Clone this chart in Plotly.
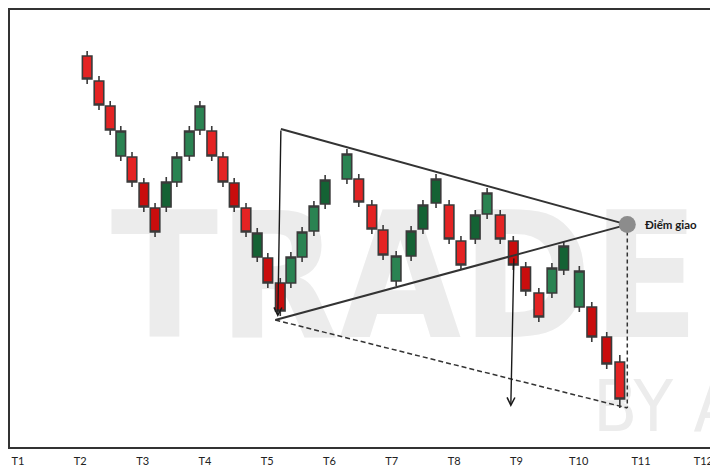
import plotly.graph_objects as go

# ---------------- data ----------------
tick_pos = [1, 2, 3, 4, 5, 6, 7, 8, 9, 10, 11, 12]
tick_labels = ["T1", "T2", "T3", "T4", "T5", "T6", "T7", "T8", "T9", "T10", "T11", "T12"]

candle_x = [2.11, 2.30, 2.48, 2.65, 2.83, 3.02, 3.20, 3.38, 3.55, 3.75, 3.92,
            4.11, 4.29, 4.47, 4.66, 4.84, 5.01, 5.21, 5.38, 5.56, 5.75, 5.93,
            6.28, 6.47, 6.68, 6.86, 7.07, 7.31, 7.50, 7.71, 7.92, 8.11, 8.34,
            8.53, 8.74, 8.95, 9.15, 9.36, 9.57, 9.76, 10.01, 10.21, 10.45, 10.66]
candle_open = [97.75, 91.5, 85.25, 72.75, 72.5, 66.0, 59.75, 60.0, 66.25, 72.75, 79.25,
               79.0, 72.5, 66.0, 59.75, 47.5, 47.25, 41.0, 41.0, 47.5, 54.0, 60.75,
               67.0, 67.0, 60.5, 54.25, 41.5, 47.75, 54.5, 61.0, 60.5, 51.5, 52.0,
               58.25, 58.0, 51.5, 45.0, 38.5, 38.5, 44.25, 35.0, 35.0, 27.5, 21.25]
candle_close = [92.0, 85.5, 79.25, 79.0, 66.25, 60.0, 53.75, 66.25, 72.5, 79.0, 85.25,
                72.75, 66.25, 60.0, 53.75, 53.5, 41.0, 34.0, 47.5, 53.75, 60.25, 66.75,
                73.25, 61.25, 54.5, 48.0, 47.75, 54.0, 60.5, 67.0, 52.0, 45.5, 58.0,
                63.5, 52.0, 45.5, 39.0, 32.5, 44.75, 50.25, 44.0, 27.5, 20.75, 12.0]
candle_high = [99.0, 92.75, 86.5, 80.25, 73.75, 67.25, 61.0, 67.5, 73.75, 80.25, 86.5,
               80.25, 73.75, 67.25, 61.0, 54.75, 48.5, 42.25, 48.75, 55.0, 61.5, 68.0,
               74.5, 68.25, 61.75, 55.5, 49.0, 55.25, 61.75, 68.25, 61.75, 52.75, 59.25,
               64.75, 59.25, 52.75, 46.25, 39.75, 46.0, 51.5, 45.25, 36.25, 28.75, 23.0]
candle_low = [90.75, 84.25, 78.0, 71.5, 65.0, 58.75, 52.5, 58.75, 65.0, 71.5, 78.0,
              71.5, 65.0, 58.75, 52.5, 46.25, 39.75, 32.75, 39.75, 46.25, 52.75, 59.5,
              65.75, 60.0, 53.25, 46.75, 40.25, 46.5, 53.25, 59.75, 50.75, 44.25, 50.75,
              57.0, 50.75, 44.25, 37.75, 31.25, 37.25, 43.0, 33.75, 26.25, 19.5, 9.75]
candle_shade = ["L", "L", "L", "L", "L", "D", "D", "D", "L", "L", "L",
                "L", "L", "D", "L", "D", "D", "D", "L", "L", "L", "D",
                "L", "L", "L", "L", "L", "D", "D", "D", "L", "L", "D",
                "L", "L", "D", "D", "L", "L", "D", "L", "D", "D", "L"]

# pattern geometry (x in T units, y in price units)
upper_vertex = [5.22, 79.5]
lower_vertex = [5.13, 31.75]
apex_point = [10.78, 55.6]
target_point = [10.78, 9.75]
arrow1_tail = [5.22, 79.5]
arrow1_tip = [5.17, 32.5]
arrow2_tail = [8.96, 47.5]
arrow2_tip = [8.91, 10.0]
apex_label = "Điểm giao"
watermark_main = "TRADEPEDIA"
watermark_sub = "BY AVR"

# ---------------- figure ----------------
fig = go.Figure()

colors = {
    "L": dict(up="#2a8352", down="#e42323"),
    "D": dict(up="#146234", down="#c90d0d"),
}
edge = "#3a3a3a"
for shade in ["L", "D"]:
    idx = [i for i, s in enumerate(candle_shade) if s == shade]
    fig.add_trace(go.Candlestick(
        x=[candle_x[i] for i in idx],
        open=[candle_open[i] for i in idx],
        high=[candle_high[i] for i in idx],
        low=[candle_low[i] for i in idx],
        close=[candle_close[i] for i in idx],
        increasing=dict(fillcolor=colors[shade]["up"], line=dict(color=edge, width=1.6)),
        decreasing=dict(fillcolor=colors[shade]["down"], line=dict(color=edge, width=1.6)),
        whiskerwidth=0, hoverinfo="skip", showlegend=False))

line_col = "#333333"
fig.add_trace(go.Scatter(
    x=[upper_vertex[0], apex_point[0]], y=[upper_vertex[1], apex_point[1]],
    mode="lines", line=dict(color=line_col, width=2), hoverinfo="skip"))
fig.add_trace(go.Scatter(
    x=[lower_vertex[0], apex_point[0]], y=[lower_vertex[1], apex_point[1]],
    mode="lines", line=dict(color=line_col, width=2), hoverinfo="skip"))
fig.add_trace(go.Scatter(
    x=[lower_vertex[0], target_point[0]], y=[lower_vertex[1], target_point[1]],
    mode="lines", line=dict(color=line_col, width=1.5, dash="5px,3px"), hoverinfo="skip"))
fig.add_trace(go.Scatter(
    x=[apex_point[0], target_point[0]], y=[apex_point[1], target_point[1]],
    mode="lines", line=dict(color=line_col, width=1.5, dash="4px,3px"), hoverinfo="skip"))
fig.add_trace(go.Scatter(
    x=[apex_point[0]], y=[apex_point[1]], mode="markers",
    marker=dict(size=17, color="#8c8c8c"), hoverinfo="skip"))

for tail, tip in [(arrow1_tail, arrow1_tip), (arrow2_tail, arrow2_tip)]:
    fig.add_annotation(
        x=tip[0], y=tip[1], ax=tail[0], ay=tail[1], xref="x", yref="y",
        axref="x", ayref="y", text="", showarrow=True, arrowhead=5,
        arrowsize=1.1, arrowwidth=1.4, arrowcolor="#1a1a1a", standoff=0, startstandoff=0)

fig.add_annotation(
    x=11.04, y=apex_point[1], xref="x", yref="y", text="<b>" + apex_label + "</b>",
    showarrow=False, xanchor="left", yanchor="middle",
    font=dict(family="Lato, sans-serif", size=11.5, color="#1a1a1a"))

# watermark drawn beneath the traces
wm_font = "Liberation Sans Narrow, DejaVu Sans Condensed, Liberation Sans, sans-serif"
fig.add_shape(type="rect", layer="below", xref="x", yref="y",
              x0=2.44, x1=12.2, y0=30, y1=62, line=dict(width=0),
              fillcolor="rgba(0,0,0,0)",
              label=dict(text=watermark_main, textposition="middle left", padding=0,
                         font=dict(family=wm_font, size=175, color="#ececec", weight="bold")))
fig.add_shape(type="rect", layer="below", xref="x", yref="y",
              x0=10.18, x1=12.2, y0=0, y1=23, line=dict(width=0),
              fillcolor="rgba(0,0,0,0)",
              label=dict(text=watermark_sub, textposition="middle left", padding=0,
                         font=dict(family=wm_font, size=72, color="#ececec")))

fig.update_layout(
    width=710, height=459,
    margin=dict(l=2, r=0, t=2, b=20),
    paper_bgcolor="white", plot_bgcolor="white",
    showlegend=False, boxgap=0.1, boxgroupgap=0,
    xaxis=dict(range=[0.8716, 12.236], tickmode="array", tickvals=tick_pos,
               ticktext=tick_labels, showgrid=False, zeroline=False,
               showline=True, linecolor="#333333", linewidth=2, mirror=True,
               ticks="", ticklabelstandoff=3, rangeslider=dict(visible=False),
               tickfont=dict(family="Lato, sans-serif", size=11, color="#222222")),
    yaxis=dict(range=[0, 109.25], showgrid=False, zeroline=False, showline=True,
               linecolor="#333333", linewidth=2, showticklabels=False, ticks=""),
)

fig.write_html("out.html")
